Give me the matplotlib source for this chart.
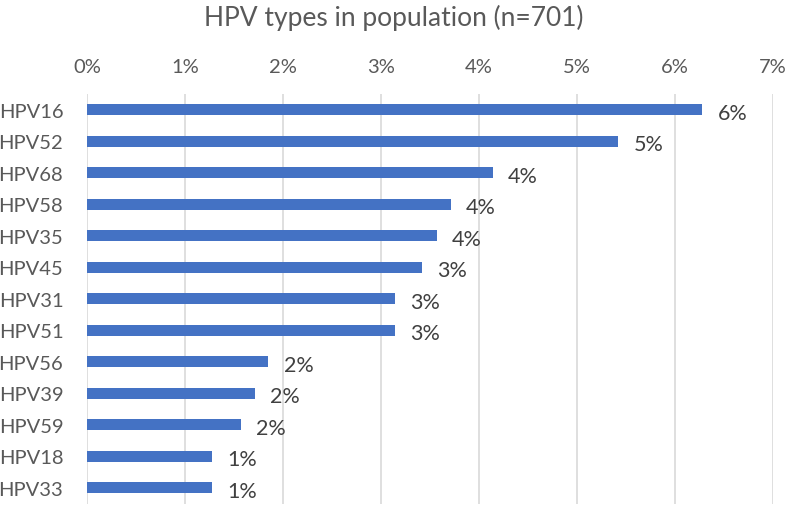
import matplotlib.pyplot as plt
from matplotlib.ticker import FuncFormatter

plt.rcParams['font.family'] = ['Lato', 'DejaVu Sans']

types = ["HPV16", "HPV52", "HPV68", "HPV58", "HPV35", "HPV45", "HPV31",
         "HPV51", "HPV56", "HPV39", "HPV59", "HPV18", "HPV33"]
percent = [6.28, 5.42, 4.14, 3.71, 3.57, 3.42, 3.14,
           3.14, 1.85, 1.71, 1.57, 1.28, 1.28]
labels = ["6%", "5%", "4%", "4%", "4%", "3%", "3%",
          "3%", "2%", "2%", "2%", "1%", "1%"]

grey = "#595959"

fig = plt.figure(figsize=(7.87, 5.06), dpi=100)
ax = fig.add_axes([0.1105, 0.0025, 0.8717, 0.8093])

ax.barh(range(len(types)), percent, height=0.35, color="#4472C4", zorder=3)
ax.set_ylim(len(types) - 0.5, -0.5)
ax.set_xlim(0, 7)
ax.set_yticks(range(len(types)))
ax.set_yticklabels(types)

ax.xaxis.tick_top()
ax.set_xticks(range(0, 8))
ax.xaxis.set_major_formatter(FuncFormatter(lambda v, p: f"{int(v)}%"))
ax.tick_params(axis="x", length=0, pad=14, labelsize=14.5, colors=grey)
ax.tick_params(axis="y", length=0, pad=17, labelsize=14.5, colors=grey)
ax.grid(axis="x", color="#D9D9D9", linewidth=1.2, zorder=0)
for s in ax.spines.values():
    s.set_visible(False)

for i, (v, t) in enumerate(zip(percent, labels)):
    ax.annotate(t, (v, i), xytext=(11, -2), textcoords="offset points",
                va="center", ha="left", fontsize=15.5, color="#404040")

fig.suptitle("HPV types in population (n=701)", y=0.99, fontsize=19, color=grey)

plt.savefig("out.png")
